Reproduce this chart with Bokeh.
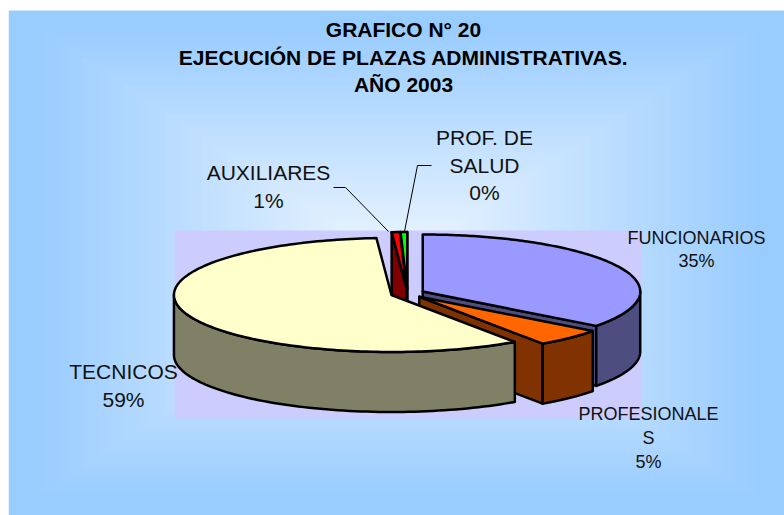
import numpy as np
from bokeh.plotting import figure
from bokeh.models import Range1d
from bokeh.core.properties import value
from bokeh.embed import file_html
from bokeh.resources import INLINE

# ---- data ----
names = ["PROF. DE SALUD", "AUXILIARES", "FUNCIONARIOS", "PROFESIONALES", "TECNICOS"]
shares = [0.49, 0.61, 35.3, 5.1, 58.5]
starts = [99.51, 98.9, 0.0, 35.3, 40.4]
top_colors = ["#00FF00", "#FF0000", "#9999FF", "#FF6600", "#FFFFCC"]
side_colors = ["#008000", "#800000", "#4D4D80", "#803300", "#808066"]
title_lines = ["GRAFICO N° 20", "EJECUCIÓN DE PLAZAS ADMINISTRATIVAS.", "AÑO 2003"]
big_labels = ["PROF. DE", "SALUD", "0%", "AUXILIARES", "1%", "TECNICOS", "59%"]
small_labels = ["FUNCIONARIOS", "35%", "PROFESIONALE", "S", "5%"]

# ---- pie projection ----
CX, CY, RX, RY, DEPTH, EXPLODE = 407.0, 293.0, 217.5, 57.0, 60.0, 17.0


def rim(cx, cy, t, dy=0.0):
    return cx + RX * np.sin(t), cy - RY * np.cos(t) + dy


p = figure(width=776, height=507, x_range=Range1d(8, 784), y_range=Range1d(515, 8),
           output_backend="svg", toolbar_location=None, min_border=0,
           border_fill_color="white", outline_line_color=None)
p.axis.visible = False
p.grid.visible = False
p.styles = {"position": "absolute", "left": "8px", "top": "8px"}

# background: rectangular path gradient drawn as nested rectangles
STEPS = 64
BG_L, BG_R, BG_T, BG_B = 8.0, 784.0, 10.0, 515.0
c_edge, c_mid = np.array([153, 204, 255.0]), np.array([238, 246, 255.0])
f = np.linspace(0, 1, STEPS)
half_w = (BG_R - BG_L) / 2 * (1 - f * 0.985)
half_h = (BG_B - BG_T) / 2 * (1 - f * 0.985)
mx, my = (BG_L + BG_R) / 2, (BG_T + BG_B) / 2
tone = np.clip((f - 0.06) / 0.94, 0, 1)
bg_cols = ["#%02x%02x%02x" % tuple(int(round(v)) for v in c_edge + (c_mid - c_edge) * k) for k in tone]
p.quad(left=mx - half_w, right=mx + half_w, top=my - half_h, bottom=my + half_h,
       fill_color=bg_cols, line_color=None)

# plot-area panel
p.quad(left=174, right=641, top=230, bottom=418, fill_color="#CCCCFF", line_color=None)

# slices, back to front
xs, ys, fills = [], [], []
for share, start, top, side in zip(shares, starts, top_colors, side_colors):
    a0 = start / 100 * 2 * np.pi
    a1 = (start + share) / 100 * 2 * np.pi
    mid = (a0 + a1) / 2
    cx = CX + EXPLODE * np.sin(mid)
    cy = CY - EXPLODE * np.cos(mid) * RY / RX
    # radial walls
    if np.sin(a0) < -1e-9:
        x0, y0 = rim(cx, cy, a0)
        xs.append([x0, cx, cx, x0]); ys.append([y0, cy, cy + DEPTH, y0 + DEPTH]); fills.append(side)
    if np.sin(a1) > -1e-9:
        x0, y0 = rim(cx, cy, a1)
        xs.append([x0, cx, cx, x0]); ys.append([y0, cy, cy + DEPTH, y0 + DEPTH]); fills.append(side)
    # outer wall, only its front part shows
    lo, hi = max(a0, np.pi / 2), min(a1, 3 * np.pi / 2)
    if hi > lo:
        t = np.linspace(lo, hi, 80)
        x0, y0 = rim(cx, cy, t)
        xs.append(list(x0) + list(x0[::-1]))
        ys.append(list(y0) + list((y0 + DEPTH)[::-1]))
        fills.append(side)
    # top face
    t = np.linspace(a0, a1, 160)
    x0, y0 = rim(cx, cy, t)
    xs.append([cx] + list(x0)); ys.append([cy] + list(y0)); fills.append(top)

p.patches(xs, ys, fill_color=fills, line_color="black", line_width=2.5, line_join="round")

# leader lines
p.line([333, 345, 388], [187, 187, 231], line_color="black", line_width=1)
p.line([431, 417, 404], [165, 165, 231], line_color="black", line_width=1)

# texts
FONT = value("Liberation Sans")
p.text([403, 403, 403], [29, 57, 84], text=title_lines, text_font=FONT, text_font_size="21px",
       text_font_style="bold", text_align="center", text_baseline="middle", text_color="black")
p.text([484, 484, 484, 268, 268, 123, 123], [137, 165, 192, 172, 200, 371, 399], text=big_labels,
       text_font=FONT, text_font_size="21px", text_align="center", text_baseline="middle",
       text_color="#111111")
p.text([696, 696, 648, 648, 648], [237, 260, 413, 437, 461], text=small_labels,
       text_font=FONT, text_font_size="18px", text_align="center", text_baseline="middle",
       text_color="#111111")

open("out.html", "w").write(file_html(p, INLINE))
